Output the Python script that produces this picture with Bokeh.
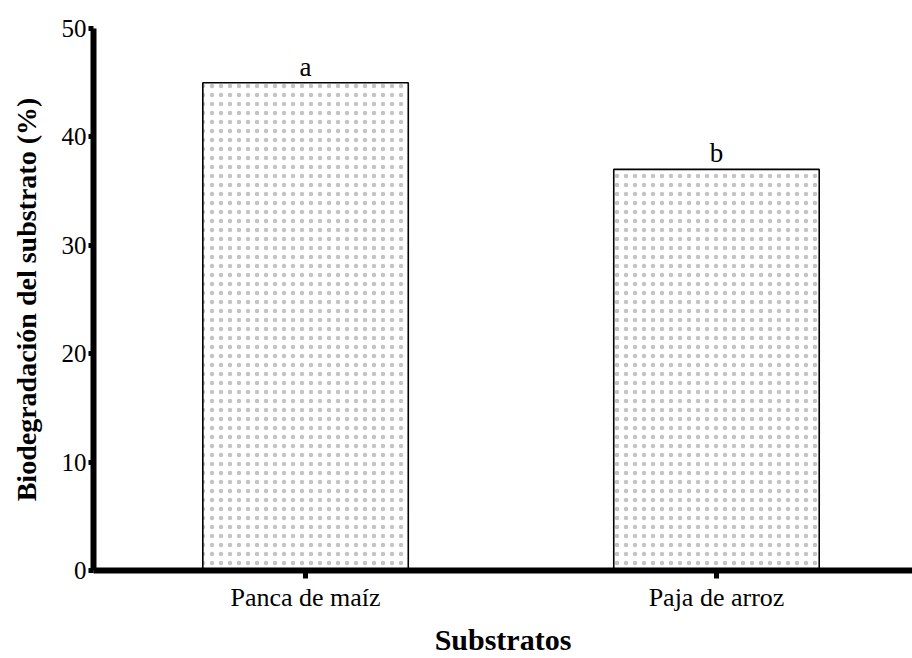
from bokeh.plotting import figure
from bokeh.models import Range1d, FixedTicker, ColumnDataSource
from bokeh.core.properties import value
from bokeh.embed import file_html
from bokeh.resources import INLINE

categories = ["Panca de maíz", "Paja de arroz"]
biodegradacion = [45.0, 37.0]
letras = ["a", "b"]
y_ticks = [0, 10, 20, 30, 40, 50]

xpos = [i + 1 for i in range(len(categories))]
src = ColumnDataSource(dict(x=xpos, top=biodegradacion, lab=letras))

p = figure(width=912, height=658, output_backend="svg", toolbar_location=None,
           x_range=Range1d(0.484, 2.477), y_range=Range1d(0, 50),
           min_border_left=93, min_border_top=28, min_border_bottom=85, min_border_right=0)
p.outline_line_color = None
p.xgrid.grid_line_color = None
p.ygrid.grid_line_color = None

p.vbar(x="x", top="top", width=0.5, source=src, fill_color="white",
       line_color="black", line_width=1.6,
       hatch_pattern="dot", hatch_color="#c4c4c4", hatch_scale=9, hatch_weight=0.5)

p.text(x="x", y="top", text="lab", source=src, text_align="center",
       text_baseline="bottom", y_offset=-1, text_font=value("Liberation Serif"),
       text_font_size="27px", text_color="black")

font = "Liberation Serif"
p.xaxis.ticker = FixedTicker(ticks=xpos)
p.xaxis.major_label_overrides = {x: c for x, c in zip(xpos, categories)}
p.yaxis.ticker = FixedTicker(ticks=y_ticks)
p.xaxis.minor_tick_line_color = None
p.yaxis.minor_tick_line_color = None
for ax in (p.xaxis, p.yaxis):
    ax.axis_line_width = 6
    ax.axis_line_color = "black"
    ax.major_tick_line_width = 5
    ax.major_tick_line_color = "black"
    ax.major_tick_in = 0
    ax.major_label_text_font = font
    ax.major_label_text_font_size = "25px"
    ax.major_label_text_color = "black"
    ax.axis_label_text_font = font
    ax.axis_label_text_font_style = "bold"
    ax.axis_label_text_color = "black"
p.xaxis.major_label_text_font_size = "26px"
p.xaxis.axis_label_text_font_size = "30px"
p.yaxis.axis_label_text_font_size = "28px"
p.xaxis.major_tick_out = 8
p.yaxis.major_tick_out = 5
p.yaxis.major_label_standoff = 2
p.xaxis.major_label_standoff = 4
p.xaxis.axis_label = "Substratos"
p.yaxis.axis_label = "Biodegradación del substrato (%)"
p.xaxis.axis_label_standoff = 8
p.yaxis.axis_label_standoff = 17

open("out.html", "w").write(file_html(p, INLINE))
